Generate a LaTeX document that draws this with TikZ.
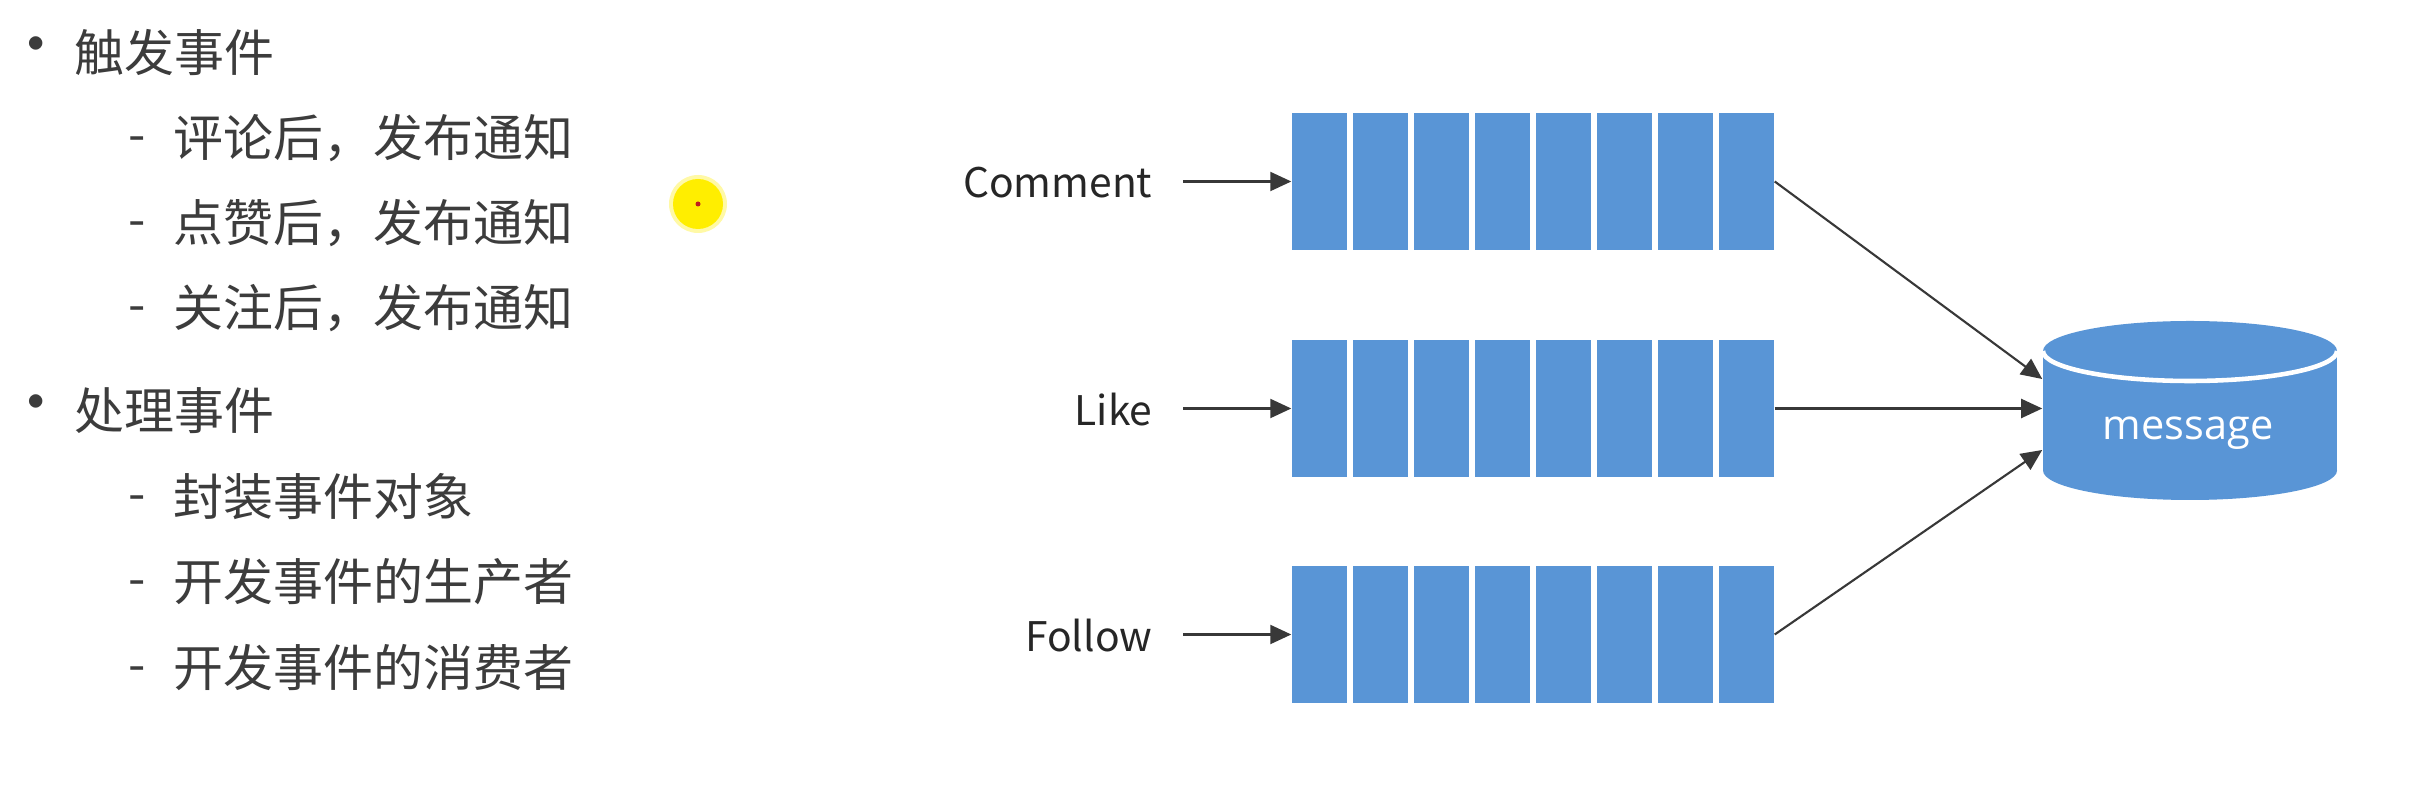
\documentclass[tikz,border=0pt]{standalone}
\usepackage{fontspec}
\setmainfont{Noto Sans CJK SC}
\newfontfamily\msgfont{Open Sans}
\usetikzlibrary{arrows.meta,calc}
\definecolor{qblue}{RGB}{89,149,214}
\definecolor{txtgray}{RGB}{60,60,60}
\definecolor{cursorY}{RGB}{255,238,0}
\definecolor{cursorR}{RGB}{190,30,30}
\begin{document}
\begin{tikzpicture}[x=0.01cm,y=-0.01cm,
  listtxt/.style={anchor=west, inner sep=0, text=txtgray, font=\fontsize{14.2pt}{17pt}\selectfont},
  bul/.style={anchor=center, inner sep=0, text=txtgray, font=\fontsize{18pt}{21pt}\selectfont},
  dsh/.style={anchor=center, inner sep=0, text=txtgray, font=\fontsize{14.2pt}{17pt}\selectfont},
  cell/.style={fill=qblue, minimum width=0.55cm, minimum height=1.37cm, inner sep=0, draw=none},
  lbl/.style={anchor=east, inner sep=0, text=black!85, font=\fontsize{11.6pt}{14pt}\selectfont},
  conn/.style={draw=black!78, line width=0.6pt, -{Triangle[length=0.21cm,width=0.19cm]}},
  msgtxt/.style={inner sep=0, text=white, font=\msgfont\fontsize{11.8pt}{13pt}\selectfont}]
\useasboundingbox[fill=white] (0,0) rectangle (2420,804);

% left list
\node[bul] (b1) at (36,52) {•};
\node[listtxt] (t1) at (74,53) {触发事件};
\node[dsh] (d11) at (137,145) {-};
\node[listtxt] (t11) at (173,138) {评论后，发布通知};
\node[dsh] (d12) at (137,230) {-};
\node[listtxt] (t12) at (173,223) {点赞后，发布通知};
\node[dsh] (d13) at (137,315) {-};
\node[listtxt] (t13) at (173,308) {关注后，发布通知};
\node[bul] (b2) at (36,410) {•};
\node[listtxt] (t2) at (74,411) {处理事件};
\node[dsh] (d21) at (137,504) {-};
\node[listtxt] (t21) at (173,497) {封装事件对象};
\node[dsh] (d22) at (137,589) {-};
\node[listtxt] (t22) at (173,582) {开发事件的生产者};
\node[dsh] (d23) at (137,675) {-};
\node[listtxt] (t23) at (173,668) {开发事件的消费者};

% cursor highlight
\fill[cursorY, opacity=0.35] (698,204) circle[radius=29];
\fill[cursorY] (698,204) circle[radius=25];
\fill[cursorR] (698,204) circle[radius=2.5];

% queues
\foreach \q/\yy in {1/181.5, 2/408.5, 3/634.5}{
  \foreach \i in {1,...,8}{
    \node[cell] (q\q c\i) at ({1292+27.5+(\i-1)*61}, \yy) {};
  }
}

% labels
\node[lbl] (cmt) at (1153,182.5) {Comment};
\node[lbl] (lik) at (1153,409.5) {Like};
\node[lbl] (fol) at (1153,635.5) {Follow};

\draw[conn, shorten <=0.3cm] (cmt.east |- q1c1.west) -- (q1c1.west);
\draw[conn, shorten <=0.3cm] (lik.east |- q2c1.west) -- (q2c1.west);
\draw[conn, shorten <=0.3cm] (fol.east |- q3c1.west) -- (q3c1.west);

% database cylinder
\node[minimum width=2.94cm, minimum height=1.79cm, inner sep=0] (db) at (2190,410.5) {};
\fill[qblue] (2190,470.5) ellipse[x radius=147, y radius=29.5];
\fill[qblue] (2043,351) rectangle (2337,470.5);
\fill[qblue] (2190,351) ellipse[x radius=147, y radius=30];
\draw[white, line width=1.3pt] (2043,351) arc[start angle=180, end angle=0, x radius=147, y radius=30];
\node[msgtxt] (msg) at (2188,433) {message};

\draw[conn] (q1c8.east) -- ($(db.west)+(0,-31.5)$);
\draw[conn] (q2c8.east) -- (q2c8.east -| db.west);
\draw[conn] (q3c8.east) -- ($(db.west)+(0,39.5)$);
\end{tikzpicture}
\end{document}
